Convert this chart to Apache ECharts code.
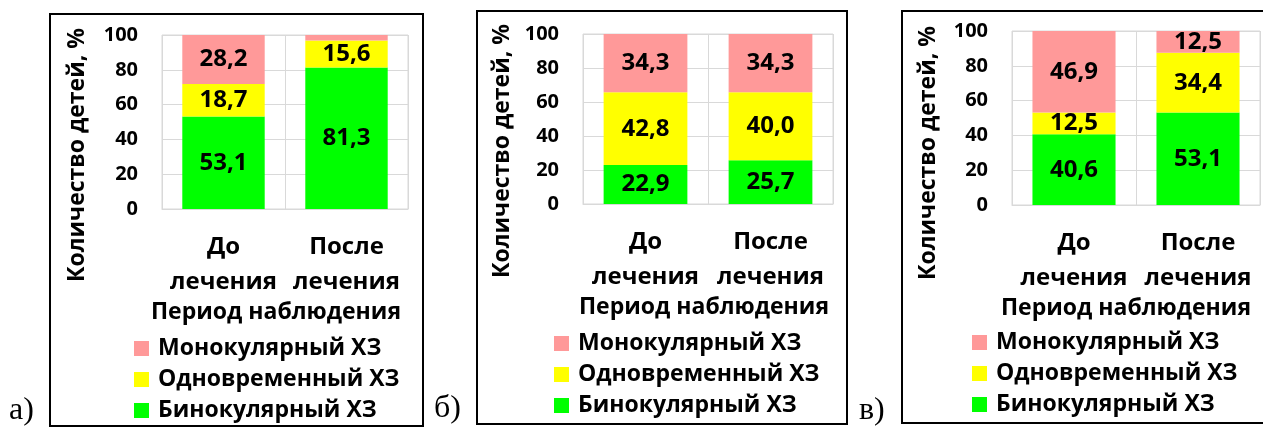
<!DOCTYPE html>
<html>
<head>
<meta charset="utf-8">
<script src="https://cdn.jsdelivr.net/npm/echarts@6/dist/echarts.min.js"></script>
<style>
  html, body { margin: 0; padding: 0; background: #fff; }
  #chart { width: 1263px; height: 430px; }
</style>
</head>
<body>
<div id="chart"></div>
<script>
const categories = ['До\nлечения', 'После\nлечения']
const seriesNames = ['Монокулярный ХЗ', 'Одновременный ХЗ', 'Бинокулярный ХЗ']
// а)
const binoA = [53.1, 81.3]
const simulA = [18.7, 15.6]
const monoA = [28.2, 3.1]
// б)
const binoB = [22.9, 25.7]
const simulB = [42.8, 40.0]
const monoB = [34.3, 34.3]
// в)
const binoC = [40.6, 53.1]
const simulC = [12.5, 34.4]
const monoC = [46.9, 12.5]
const yTicks = [0, 20, 40, 60, 80, 100]

const colors = {
  mono: '#FF9999',
  simul: '#FFFF00',
  bino: '#00FF00',
}
const FONT = 'Open Sans'
const gridColor = '#d9d9d9'

// panel frames / positions
const panels = [
  { grid: { left: 162, top: 35, width: 246, height: 174 }, frame: [50, 14, 373, 412], yTitle: [77, 155], xNameShift: 9, legend: [134, 337], letter: ['а)', 9, 395], data: [binoA, simulA, monoA] },
  { grid: { left: 583, top: 34, width: 250, height: 170 }, frame: [477, 11, 370, 413], yTitle: [502, 151], xNameShift: 4, legend: [554, 332], letter: ['б)', 434, 393], data: [binoB, simulB, monoB] },
  { grid: { left: 1012, top: 31, width: 248, height: 174 }, frame: [902, 11, 370, 412], yTitle: [928, 153], xNameShift: 10, legend: [972, 331], letter: ['в)', 859, 395], data: [binoC, simulC, monoC] },
]

const chart = echarts.init(document.getElementById('chart'))

const grids = [], xAxes = [], yAxes = [], series = [], legends = [], graphics = []

panels.forEach((p, i) => {
  grids.push(Object.assign({ show: true, borderColor: gridColor, borderWidth: 1, containLabel: false }, p.grid))
  xAxes.push({
    type: 'category',
    gridIndex: i,
    data: categories,
    name: 'Период наблюдения',
    nameLocation: 'middle',
    nameGap: 87,
    nameTextStyle: {
      fontFamily: FONT, fontWeight: 'bold', fontSize: 23, color: '#000',
      padding: [0, p.xNameShift * 2, 0, 0],
    },
    axisLine: { show: true, lineStyle: { color: gridColor } },
    axisTick: { show: false },
    splitLine: { show: true, lineStyle: { color: gridColor } },
    axisLabel: {
      interval: 0,
      margin: 21,
      fontFamily: FONT,
      fontWeight: 'bold',
      fontSize: 24,
      lineHeight: 35,
      color: '#000',
    },
  })
  yAxes.push({
    type: 'value',
    gridIndex: i,
    min: yTicks[0],
    max: yTicks[yTicks.length - 1],
    interval: 20,
    axisLine: { show: false },
    axisTick: { show: false },
    splitLine: { show: true, lineStyle: { color: gridColor } },
    axisLabel: { margin: 24, fontFamily: FONT, fontWeight: 'bold', fontSize: 20, color: '#000' },
  })
  const stackName = 'st' + i
  const keys = ['bino', 'simul', 'mono']
  const names = [seriesNames[2], seriesNames[1], seriesNames[0]]
  keys.forEach((k, j) => {
    series.push({
      type: 'bar',
      name: names[j],
      xAxisIndex: i,
      yAxisIndex: i,
      stack: stackName,
      barWidth: '67%',
      data: p.data[j],
      itemStyle: { color: colors[k] },
      label: {
        show: true,
        position: 'inside',
        fontFamily: FONT,
        fontWeight: 'bold',
        fontSize: 24,
        color: '#000',
        formatter: (d) => d.value < 5 ? '' : d.value.toFixed(1).replace('.', ','),
      },
    })
  })
  legends.push({
    orient: 'vertical',
    left: p.legend[0],
    top: p.legend[1],
    padding: 0,
    itemWidth: 15,
    itemHeight: 15,
    itemGap: 8,
    icon: 'rect',
    data: seriesNames,
    selectedMode: false,
    textStyle: { fontFamily: FONT, fontWeight: 'bold', fontSize: 23, color: '#000', padding: [0, 0, 0, 4] },
  })
  graphics.push({
    type: 'rect',
    shape: { x: p.frame[0], y: p.frame[1], width: p.frame[2], height: p.frame[3] },
    style: { fill: null, stroke: '#000', lineWidth: 2 },
    z: 100,
  })
  graphics.push({
    type: 'text',
    x: p.yTitle[0],
    y: p.yTitle[1],
    rotation: Math.PI / 2,
    style: {
      text: 'Количество детей, %',
      fontFamily: FONT,
      fontWeight: 'bold',
      fontSize: 23,
      fill: '#000',
      align: 'center',
      verticalAlign: 'middle',
    },
  })
  graphics.push({
    type: 'text',
    x: p.letter[1],
    y: p.letter[2],
    style: {
      text: p.letter[0],
      fontFamily: 'Liberation Serif',
      fontSize: 32,
      fill: '#000',
    },
  })
})

chart.setOption({
  animation: false,
  grid: grids,
  xAxis: xAxes,
  yAxis: yAxes,
  legend: legends,
  series: series,
  graphic: graphics,
})
</script>
</body>
</html>
